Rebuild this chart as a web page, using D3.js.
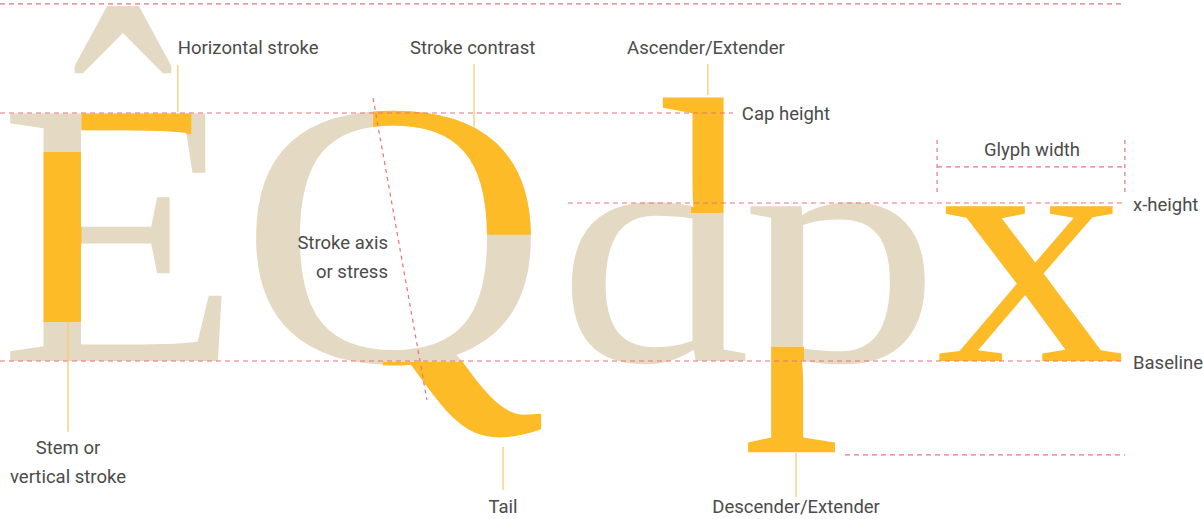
<!DOCTYPE html>
<html>
<head>
<meta charset="utf-8">
<script src="https://cdn.jsdelivr.net/npm/d3@7"></script>
<style>
  body { margin: 0; background: #fff; }
  svg { display: block; }
</style>
</head>
<body>
<div id="chart"></div>
<script>
const width = 1203, height = 519;

// metrics in font units (cap height = 700)
const guideNames = ["top", "cap", "xheight", "baseline", "descender"];
const guideLevels = [1008, 700, 446, 0, -265];
const guideStarts = [0, 0, 1603, 0, 2385];
const guideEnds = [3175, 2069, 3175, 3175, 3175];

// glyphs and their ink extents (font units)
const glyphChars = ["E", "Q", "d", "p", "x"];
const glyphCase = ["cap", "cap", "lower", "lower", "lower"];
const glyphLeft = [14, 711, 1609, 2111, 2642];
const glyphRight = [627, 1544, 2117, 2619, 3178];
const accentBox = [203, 486, 1011, 793]; // circumflex x0, x1, top, bottom
const ascenderTop = 756;
const descenderBottom = -265;
const tailBottom = -229;

// highlighted parts
const stemBand = [590, 110];
const barBand = [720, 640, 540];
const bowlCut = [1053, 356];
const tailCut = [1080, -3];
const ascenderCut = 418;
const descenderCut = 40;

// annotations
const labelTexts = ["Horizontal stroke", "Stroke contrast", "Ascender/Extender", "Cap height",
  "Glyph width", "x-height", "Stroke axis", "or stress", "Baseline",
  "Stem or", "vertical stroke", "Tail", "Descender/Extender"];
const labelX = [502, 1157, 1770, 2094, 2913, 3198, 1095, 1095, 3198, 192, 192, 1420, 2247];
const labelY = [883, 883, 883, 697, 596, 440, 333, 251, -6, -246, -327, -412, -412];
const labelAnchor = ["start", "start", "start", "start", "middle", "start", "end", "end", "start",
  "middle", "middle", "middle", "middle"];

const leaderX = [502, 1338, 1998, 192, 1420, 2247];
const leaderFrom = [835, 838, 838, 110, -243, -260];
const leaderTo = [703, 658, 751, -200, -364, -384];

const widthBracket = [2645, 3175, 624, 474, 548];
const axisLine = [[1053, 742], [1205, -110]];

const k = 248 / 700;
const x = d3.scaleLinear().domain([0, 1000]).range([0, 1000 * k]);
const y = d3.scaleLinear().domain([0, 700]).range([361, 113]);
const base = y(0);

const serif = '"Liberation Serif", "Times New Roman", serif';
const sans = 'Roboto, "Noto Sans", sans-serif';
const beige = "#e4d9c2", yellow = "#fdbb27", red = "#e8737c", leaderColor = "#f5cd72", ink = "#4b4b4b";

const svg = d3.select("#chart").append("svg")
  .attr("width", width)
  .attr("height", height);
const defs = svg.append("defs");

const canvas = document.createElement("canvas");
canvas.width = width;
canvas.height = height;
const ctx = canvas.getContext("2d", { willReadFrequently: true });

const measure = (ch, fs) => {
  ctx.setTransform(1, 0, 0, 1, 0, 0);
  ctx.font = `${fs}px ${serif}`;
  return ctx.measureText(ch);
};

const capFs = (y(0) - y(700)) * 1000 / measure("E", 1000).actualBoundingBoxAscent;
const lowFs = (y(0) - y(446)) * 1000 / measure("x", 1000).actualBoundingBoxAscent;

const fit = (ch, fs, left, right) => {
  const m = measure(ch, fs);
  const sx = (x(right) - x(left)) / (m.actualBoundingBoxLeft + m.actualBoundingBoxRight);
  return { ch, fs, sx, tx: x(left) + m.actualBoundingBoxLeft * sx,
    asc: m.actualBoundingBoxAscent, desc: m.actualBoundingBoxDescent };
};

// first ink run on a pixel row, used to find stems
const stemRun = (g, rowY) => {
  ctx.setTransform(1, 0, 0, 1, 0, 0);
  ctx.clearRect(0, 0, width, height);
  ctx.setTransform(g.sx, 0, 0, 1, g.tx, base);
  ctx.font = `${g.fs}px ${serif}`;
  ctx.fillStyle = "#000";
  ctx.fillText(g.ch, 0, 0);
  const row = ctx.getImageData(0, Math.round(rowY), width, 1).data;
  let start = -1;
  for (let i = 0; i < width; i++) {
    const a = row[i * 4 + 3];
    if (a > 110 && start < 0) start = i;
    else if (a <= 110 && start >= 0) return [start, i];
  }
  return [start, width];
};

const tf = (g, pivot, ky) =>
  `translate(${g.tx},${pivot}) scale(${g.sx},${ky}) translate(0,${base - pivot})`;

const poly = pts => "M" + pts.map(p => p.join(",")).join("L") + "Z";
const frame = `M0,0H${width}V${height}H0Z`;
const addClip = (id, d, rule) => {
  defs.append("clipPath").attr("id", id)
    .append("path").attr("d", d).attr("clip-rule", rule || "nonzero");
};

const glyphLayer = svg.append("g");
const drawGlyph = (g, fill, transform, clipId) => {
  const holder = glyphLayer.append("g");
  if (clipId) holder.attr("clip-path", `url(#${clipId})`);
  holder.append("text")
    .attr("transform", transform)
    .attr("font-family", serif)
    .attr("font-size", g.fs)
    .attr("fill", fill)
    .text(g.ch);
};

const glyphs = glyphChars.map((ch, i) =>
  fit(ch, glyphCase[i] === "cap" ? capFs : lowFs, glyphLeft[i], glyphRight[i]));
const [gE, gQ, gd, gp, gx] = glyphs;

// circumflex
const mAcc = measure("\u02C6", 1000);
const accSx = (x(accentBox[1]) - x(accentBox[0])) / (mAcc.actualBoundingBoxLeft + mAcc.actualBoundingBoxRight);
const accSy = (y(accentBox[3]) - y(accentBox[2])) / (mAcc.actualBoundingBoxAscent + mAcc.actualBoundingBoxDescent);
glyphLayer.append("text")
  .attr("transform", `translate(${x(accentBox[0]) + mAcc.actualBoundingBoxLeft * accSx},${y(accentBox[2]) + mAcc.actualBoundingBoxAscent * accSy}) scale(${accSx},${accSy})`)
  .attr("font-family", serif)
  .attr("font-size", 1000)
  .attr("fill", beige)
  .text("\u02C6");

// E: stem and top bar
const eStem = stemRun(gE, y(560));
addClip("clipEStem", poly([[0, y(stemBand[0])], [eStem[1] + 0.5, y(stemBand[0])], [eStem[1] + 0.5, y(stemBand[1])], [0, y(stemBand[1])]]));
addClip("clipEBar", poly([[eStem[1] + 0.5, y(barBand[0])], [x(barBand[2]), y(barBand[0])], [x(barBand[2]), y(barBand[1])], [eStem[1] + 0.5, y(barBand[1])]]));
drawGlyph(gE, beige, tf(gE, base, 1));
drawGlyph(gE, yellow, tf(gE, base, 1), "clipEStem");
drawGlyph(gE, yellow, tf(gE, base, 1), "clipEBar");

// Q: stroke contrast and tail (tail stretched below the baseline)
const kq = (y(tailBottom) - base) / gQ.desc;
const tailPoly = poly([[x(tailCut[0]), y(tailCut[1])], [width, y(tailCut[1])], [width, height], [x(tailCut[0]), height]]);
addClip("clipQTop", poly([[x(bowlCut[0]), 0], [width, 0], [width, y(bowlCut[1])], [x(bowlCut[0]), y(bowlCut[1])]]));
addClip("clipQTail", tailPoly);
addClip("clipQRest", frame + tailPoly, "evenodd");
drawGlyph(gQ, beige, tf(gQ, base, 1), "clipQRest");
drawGlyph(gQ, yellow, tf(gQ, base, 1), "clipQTop");
drawGlyph(gQ, yellow, tf(gQ, base, kq), "clipQTail");

// d: ascender, stretched above the x-height
const xh = y(446);
const dStem = stemRun(gd, xh - 30);
const kd = (xh - y(ascenderTop)) / (gd.asc - (base - xh));
const dPoly = poly([[0, 0], [dStem[1] + 1, 0], [dStem[1] + 1, y(ascenderCut)], [dStem[0] - 1, y(ascenderCut)], [dStem[0] - 1, xh - 8], [0, xh - 8]]);
addClip("clipDUp", dPoly);
addClip("clipDLow", frame + dPoly, "evenodd");
drawGlyph(gd, beige, tf(gd, base, 1), "clipDLow");
drawGlyph(gd, yellow, tf(gd, xh, kd), "clipDUp");

// p: descender, stretched below the baseline
const pStem = stemRun(gp, base + 30);
const kp = (y(descenderBottom) - base) / gp.desc;
const pPoly = poly([[pStem[0] - 1, y(descenderCut)], [pStem[1] + 1, y(descenderCut)], [pStem[1] + 1, base + 10], [width, base + 10], [width, height], [0, height], [0, base + 10], [pStem[0] - 1, base + 10]]);
addClip("clipPDown", pPoly);
addClip("clipPUp", frame + pPoly, "evenodd");
drawGlyph(gp, beige, tf(gp, base, 1), "clipPUp");
drawGlyph(gp, yellow, tf(gp, base, kp), "clipPDown");

// x: whole glyph
drawGlyph(gx, yellow, tf(gx, base, 1));

// guides
const guides = svg.append("g")
  .attr("stroke", red)
  .attr("stroke-width", 1.2)
  .attr("stroke-dasharray", "5 4")
  .attr("fill", "none");

guides.selectAll("line.guide")
  .data(guideNames)
  .join("line")
  .attr("class", "guide")
  .attr("x1", (d, i) => x(guideStarts[i]))
  .attr("x2", (d, i) => x(guideEnds[i]))
  .attr("y1", (d, i) => y(guideLevels[i]))
  .attr("y2", (d, i) => y(guideLevels[i]));

const [bx0, bx1, bTop, bBottom, bMid] = widthBracket;
guides.append("line").attr("x1", x(bx0)).attr("x2", x(bx0)).attr("y1", y(bTop)).attr("y2", y(bBottom)).attr("stroke-dasharray", "4 4");
guides.append("line").attr("x1", x(bx1)).attr("x2", x(bx1)).attr("y1", y(bTop)).attr("y2", y(bBottom)).attr("stroke-dasharray", "4 4");
guides.append("line").attr("x1", x(bx0)).attr("x2", x(bx1)).attr("y1", y(bMid)).attr("y2", y(bMid));

guides.append("line")
  .attr("x1", x(axisLine[0][0])).attr("y1", y(axisLine[0][1]))
  .attr("x2", x(axisLine[1][0])).attr("y2", y(axisLine[1][1]))
  .attr("stroke-dasharray", "4 4");

// leader lines
svg.append("g")
  .selectAll("line")
  .data(leaderX)
  .join("line")
  .attr("x1", d => x(d))
  .attr("x2", d => x(d))
  .attr("y1", (d, i) => y(leaderFrom[i]))
  .attr("y2", (d, i) => y(leaderTo[i]))
  .attr("stroke", leaderColor)
  .attr("stroke-width", 1.3);

// labels
svg.append("g")
  .selectAll("text")
  .data(labelTexts)
  .join("text")
  .attr("x", (d, i) => x(labelX[i]))
  .attr("y", (d, i) => y(labelY[i]))
  .attr("text-anchor", (d, i) => labelAnchor[i])
  .attr("dominant-baseline", "central")
  .attr("font-family", sans)
  .attr("font-size", 18.5)
  .attr("fill", ink)
  .text(d => d);
</script>
</body>
</html>
